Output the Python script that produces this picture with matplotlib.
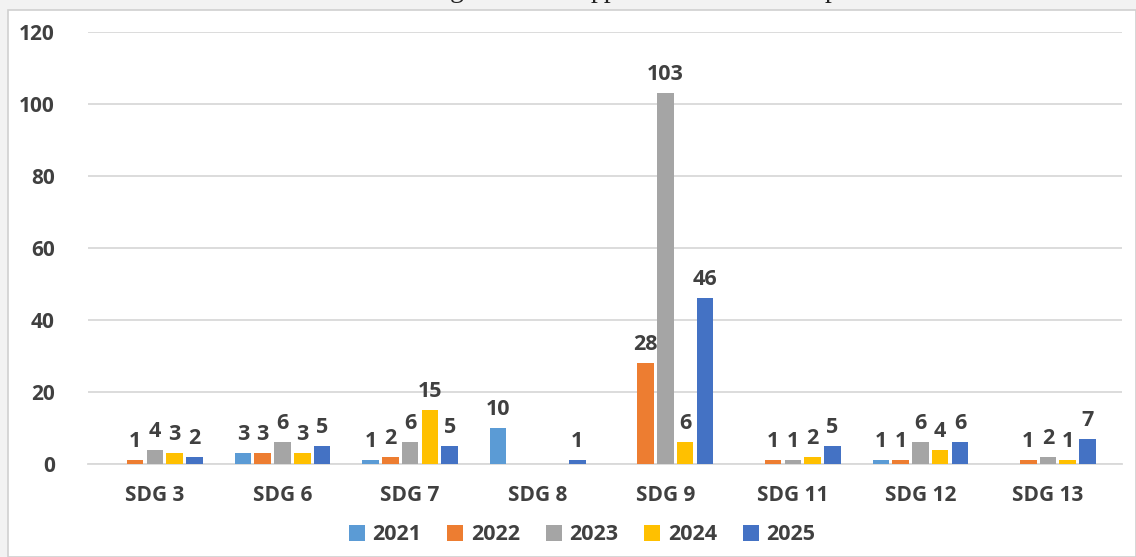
import numpy as np
import matplotlib
matplotlib.use("Agg")
import matplotlib.pyplot as plt
from matplotlib.patches import Rectangle

categories = ["SDG 3", "SDG 6", "SDG 7", "SDG 8", "SDG 9", "SDG 11", "SDG 12", "SDG 13"]
years = ["2021", "2022", "2023", "2024", "2025"]
v2021 = [0, 3, 1, 10, 0, 0, 1, 0]
v2022 = [1, 3, 2, 0, 28, 1, 1, 1]
v2023 = [4, 6, 6, 0, 103, 1, 6, 2]
v2024 = [3, 3, 15, 0, 6, 2, 4, 1]
v2025 = [2, 5, 5, 1, 46, 5, 6, 7]
series = [v2021, v2022, v2023, v2024, v2025]
colors = ["#5B9BD5", "#ED7D31", "#A5A5A5", "#FFC000", "#4472C4"]

plt.rcParams['font.family'] = ['Open Sans', 'DejaVu Sans']
text_col = "#404040"

fig = plt.figure(figsize=(11.36, 5.57), dpi=100)
fig.patch.set_facecolor("#f2f2f2")
W, H = 1136, 557
fig.patches.append(Rectangle((8 / W, 0), 1 - 8 / W, 1 - 10 / H, transform=fig.transFigure,
                             facecolor="white", edgecolor="#d0d0d0", linewidth=1.2, zorder=-10))

# cut-off title descenders peeking at the top
for xp, s in [(450, "g"), (591, "pp"), (825, "p")]:
    fig.text(xp / W, 1 + 3 / H, s, fontsize=20, family="Liberation Serif", color="#222222",
             va="baseline", ha="left")

ax = fig.add_axes([88 / W, 1 - 464 / H, (1122 - 88) / W, (464 - 32) / H])
ax.set_facecolor("none")

x = np.arange(len(categories))
pitch = 0.155
bw = 0.13
for i, (vals, yr, c) in enumerate(zip(series, years, colors)):
    pos = x + (i - 2) * pitch
    ax.bar(pos, vals, width=bw, color=c, label=yr, zorder=3)
    for p, v in zip(pos, vals):
        if v > 0:
            ax.text(p, v + 2.2, str(v), ha="center", va="bottom", fontsize=15.5,
                    fontweight="bold", color=text_col)

ax.set_ylim(0, 120)
ax.set_xlim(-0.525, 7.58)
ax.set_yticks(np.arange(0, 121, 20))
ax.set_xticks(x)
ax.set_xticklabels(categories)
ax.grid(axis="y", color="#d9d9d9", linewidth=1.3, zorder=0)
ax.tick_params(axis="both", length=0, colors=text_col, labelsize=15)
ax.tick_params(axis="y", pad=24)
ax.tick_params(axis="x", pad=15)
for lab in ax.get_xticklabels() + ax.get_yticklabels():
    lab.set_fontweight("bold")
for s in ["top", "right", "left"]:
    ax.spines[s].set_visible(False)
ax.spines["bottom"].set_color("#d9d9d9")
ax.spines["bottom"].set_linewidth(1.3)

leg = fig.legend(loc="center", bbox_to_anchor=(582 / W, 1 - 535 / H), ncol=5, frameon=False,
                 handlelength=0.75, handleheight=0.75, handletextpad=0.35, columnspacing=1.2,
                 prop={"size": 15.5, "weight": "bold"})
for t in leg.get_texts():
    t.set_color(text_col)

fig.savefig("out.png", dpi=100, facecolor=fig.get_facecolor())
